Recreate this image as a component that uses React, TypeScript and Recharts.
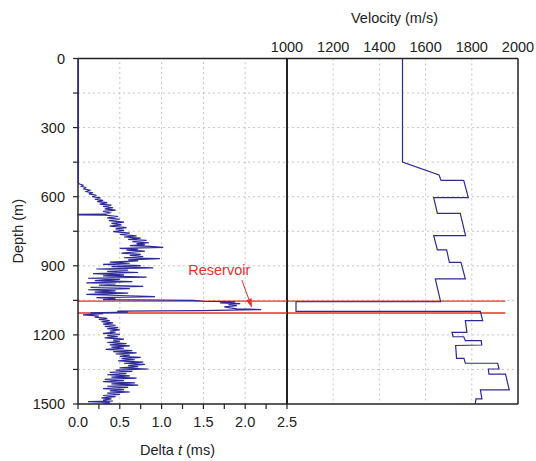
import {
  ScatterChart,
  Scatter,
  XAxis,
  YAxis,
  ReferenceLine,
  ReferenceDot,
  Label,
} from "recharts";

// depth axis (m), shared by both panels
const depthTicks = [0, 150, 300, 450, 600, 750, 900, 1050, 1200, 1350, 1500];
const depthGrid = [150, 300, 450, 600, 750, 900, 1050, 1200, 1350];

// Delta t axis (ms)
const deltaTicks = [0, 0.25, 0.5, 0.75, 1, 1.25, 1.5, 1.75, 2, 2.25, 2.5];
const deltaGrid = [0.5, 1, 1.5, 2];

// velocity axis (m/s)
const velocityTicks = [1000, 1200, 1400, 1600, 1800, 2000];
const velocityMinorTicks = [1000, 1100, 1200, 1300, 1400, 1500, 1600, 1700, 1800, 1900, 2000];
const velocityGrid = [1200, 1400, 1600, 1800];

// reservoir interval (m)
const reservoirTop = 1053;
const reservoirBase = 1105;

// [depth, delta t]
const deltaTLog: [number, number][] = [
  [0, 0.005], [542, 0.005], [545, 0.02], [550, 0.06], [555, 0.04], [560, 0.09],
  [566, 0.07], [572, 0.14], [578, 0.1], [583, 0.18], [588, 0.13], [594, 0.22],
  [600, 0.17], [605, 0.27], [611, 0.2], [616, 0.3], [621, 0.23], [626, 0.35],
  [632, 0.26], [637, 0.4], [642, 0.3], [648, 0.42], [653, 0.32], [658, 0.45],
  [664, 0.3], [670, 0.38], [676, 0.33], [677, 0], [679, 0], [680, 0.32],
  [686, 0.48], [692, 0.35], [698, 0.5], [704, 0.37], [710, 0.55], [716, 0.4],
  [722, 0.52], [728, 0.38], [734, 0.58], [740, 0.45], [746, 0.55], [752, 0.42],
  [758, 0.62], [764, 0.5], [770, 0.7], [775, 0.55], [780, 0.75], [785, 0.6],
  [790, 0.82], [795, 0.65], [800, 0.85], [804, 0.7], [808, 0.8], [812, 0.62],
  [816, 0.86], [820, 1.02], [824, 0.5], [828, 0.72], [832, 0.58], [836, 0.8],
  [840, 0.68], [845, 0.52], [850, 0.75], [855, 0.62], [860, 0.78], [865, 0.55],
  [869, 0.98], [874, 0.6], [879, 0.72], [884, 0.38], [889, 0.62], [894, 0.3],
  [899, 0.75], [904, 0.4], [909, 0.9], [914, 0.22], [919, 0.6], [924, 0.35],
  [929, 0.72], [934, 0.18], [939, 0.55], [944, 0.3], [949, 0.82], [954, 0.12],
  [959, 0.5], [964, 0.2], [969, 0.65], [974, 0.1], [979, 0.45], [984, 0.25],
  [989, 0.78], [994, 0.15], [999, 0.62], [1004, 0.12], [1009, 0.45], [1014, 0.2],
  [1019, 0.6], [1024, 0.1], [1029, 0.5], [1034, 0.92], [1038, 0.22], [1043, 0.45],
  [1047, 0.3], [1050, 1.38], [1054, 1.5], [1057, 1.88], [1061, 1.7], [1064, 1.94],
  [1068, 1.8], [1073, 1.9], [1078, 1.75], [1083, 1.82], [1087, 1.9], [1090, 2.19],
  [1095, 1.48], [1097, 0.47], [1101, 0.6], [1104, 0.15], [1108, 0.3], [1113, 0.06],
  [1118, 0.25], [1123, 0.2], [1128, 0.35], [1133, 0.25], [1138, 0.38], [1143, 0.28],
  [1148, 0.42], [1153, 0.3], [1158, 0.45], [1163, 0.32], [1168, 0.48], [1173, 0.35],
  [1178, 0.5], [1183, 0.38], [1188, 0.45], [1193, 0.3], [1198, 0.5], [1203, 0.35],
  [1208, 0.48], [1213, 0.32], [1218, 0.55], [1223, 0.42], [1228, 0.5], [1233, 0.35],
  [1238, 0.58], [1243, 0.38], [1248, 0.62], [1253, 0.4], [1258, 0.55], [1263, 0.33],
  [1268, 0.65], [1273, 0.42], [1278, 0.7], [1283, 0.45], [1288, 0.62], [1293, 0.5],
  [1298, 0.75], [1303, 0.52], [1308, 0.68], [1313, 0.48], [1318, 0.78], [1323, 0.55],
  [1328, 0.8], [1333, 0.6], [1338, 0.72], [1343, 0.5], [1348, 0.84], [1353, 0.45],
  [1358, 0.65], [1363, 0.38], [1368, 0.58], [1373, 0.35], [1378, 0.62], [1383, 0.4],
  [1388, 0.7], [1393, 0.32], [1398, 0.55], [1403, 0.3], [1408, 0.68], [1413, 0.4],
  [1418, 0.72], [1423, 0.35], [1428, 0.6], [1433, 0.3], [1438, 0.55], [1443, 0.38],
  [1448, 0.62], [1453, 0.35], [1458, 0.5], [1463, 0.3], [1468, 0.45], [1473, 0.28],
  [1478, 0.4], [1483, 0.3], [1487, 0.42], [1490, 0.12], [1493, 0.38], [1497, 0.3],
  [1500, 0.4],
];

// [depth, velocity]
const velocityLog: [number, number][] = [
  [0, 1500], [450, 1500], [506, 1658], [529, 1667], [529, 1765], [604, 1785],
  [604, 1635], [672, 1651], [672, 1750], [769, 1773], [769, 1635], [831, 1651],
  [831, 1691], [885, 1703], [885, 1753], [957, 1772], [957, 1642], [1056, 1665],
  [1056, 1039], [1098, 1039], [1098, 1837], [1138, 1847], [1138, 1772], [1189, 1779],
  [1189, 1714], [1208, 1719], [1208, 1765], [1225, 1772], [1225, 1841], [1244, 1843],
  [1246, 1730], [1302, 1734], [1302, 1766], [1323, 1772], [1323, 1912], [1348, 1918],
  [1348, 1872], [1370, 1874], [1370, 1946], [1439, 1962], [1439, 1837], [1478, 1844],
  [1478, 1818], [1500, 1815],
];

const INK = "#222";
const BLUE = "#2d2a98";
const RED = "#e8312b";
const GRID = "#c4c4c4";
const FONT = '"Liberation Sans", Arial, sans-serif';
const FS = 14.5;

const axisLine = { stroke: INK, strokeWidth: 1.5 };
const tickLine = { stroke: INK, strokeWidth: 1.2 };
const tickText = { fill: INK, fontSize: FS };

const fmtDelta = (v: number) =>
  Math.abs(v * 2 - Math.round(v * 2)) < 1e-6 ? v.toFixed(1) : "";
const fmtDepth = (v: number) => (v % 300 === 0 ? String(v) : "");

const Arrow = (p: any) => {
  const { x1, y1, x2, y2 } = p;
  const a = Math.atan2(y2 - y1, x2 - x1);
  const len = 9;
  const half = 3;
  const bx = x2 - len * Math.cos(a);
  const by = y2 - len * Math.sin(a);
  const pts = `${x2},${y2} ${bx + half * Math.sin(a)},${by - half * Math.cos(a)} ${bx - half * Math.sin(a)},${by + half * Math.cos(a)}`;
  return (
    <g>
      <line x1={x1} y1={y1} x2={bx} y2={by} stroke={RED} strokeWidth={1} />
      <polygon points={pts} fill={RED} />
    </g>
  );
};

const noDot = () => <g />;

export default function App() {
  const deltaData = deltaTLog.map(([depth, dt]) => ({ depth, dt }));
  const velData = velocityLog.map(([depth, v]) => ({ depth, v }));

  return (
    <div
      style={{
        position: "absolute",
        left: 0,
        top: 0,
        width: 536,
        height: 461,
        background: "#fff",
        fontFamily: FONT,
      }}
    >
      {/* right panel: velocity */}
      <div style={{ position: "absolute", left: 230, top: 0 }}>
        <ScatterChart
          width={306}
          height={461}
          margin={{ top: 8.5, right: 18, bottom: 57, left: 57 }}
        >
          <XAxis
            type="number"
            dataKey="v"
            orientation="top"
            domain={[1000, 2000]}
            ticks={velocityTicks}
            interval={0}
            height={50}
            tickLine={false}
            tickSize={0}
            tickMargin={7}
            axisLine={axisLine}
            tick={tickText}
          >
            <Label
              content={(p: any) => {
                const vb = p.viewBox;
                return (
                  <text
                    x={vb.x + vb.width / 2 - 8}
                    y={vb.y + 14}
                    textAnchor="middle"
                    fill={INK}
                    fontSize={FS}
                  >
                    Velocity (m/s)
                  </text>
                );
              }}
            />
          </XAxis>
          <XAxis
            xAxisId="tt"
            type="number"
            orientation="top"
            mirror
            domain={[1000, 2000]}
            ticks={velocityMinorTicks}
            interval={0}
            tick={false}
            tickSize={5}
            tickLine={tickLine}
            axisLine={false}
          />
          <XAxis
            xAxisId="bt"
            type="number"
            orientation="bottom"
            mirror
            domain={[1000, 2000]}
            ticks={velocityMinorTicks}
            interval={0}
            tick={false}
            tickSize={5}
            tickLine={tickLine}
            axisLine={axisLine}
          />
          <YAxis
            type="number"
            dataKey="depth"
            reversed
            mirror
            domain={[0, 1500]}
            ticks={depthTicks}
            interval={0}
            tick={false}
            tickSize={5}
            tickLine={tickLine}
            axisLine={{ stroke: INK, strokeWidth: 2 }}
          />
          <YAxis
            yAxisId="r"
            type="number"
            orientation="right"
            reversed
            mirror
            domain={[0, 1500]}
            ticks={depthTicks}
            interval={0}
            tick={false}
            tickSize={5}
            tickLine={tickLine}
            axisLine={axisLine}
          />
          {depthGrid.map((d) => (
            <ReferenceLine key={"h" + d} y={d} stroke={GRID} strokeDasharray="2 3" />
          ))}
          {velocityGrid.map((v) => (
            <ReferenceLine key={"v" + v} x={v} stroke={GRID} strokeDasharray="2 3" />
          ))}
          <Scatter
            data={velData}
            fill={BLUE}
            line={{ stroke: BLUE, strokeWidth: 1.2 }}
            shape={noDot}
            isAnimationActive={false}
          />
          <ReferenceLine
            segment={[{ x: 1000, y: reservoirTop }, { x: 1945, y: reservoirTop }]}
            stroke={RED}
            strokeWidth={1.3}
          />
          <ReferenceLine
            segment={[{ x: 1000, y: reservoirBase }, { x: 1945, y: reservoirBase }]}
            stroke={RED}
            strokeWidth={1.3}
          />
        </ScatterChart>
      </div>

      {/* left panel: delta t */}
      <div style={{ position: "absolute", left: 0, top: 0 }}>
        <ScatterChart
          width={300}
          height={461}
          margin={{ top: 58.5, right: 13, bottom: 17, left: 0 }}
        >
          <XAxis
            type="number"
            dataKey="dt"
            domain={[0, 2.5]}
            ticks={deltaTicks}
            interval={0}
            height={40}
            tickSize={5}
            tickMargin={8}
            tickFormatter={fmtDelta}
            axisLine={axisLine}
            tickLine={tickLine}
            tick={tickText}
          >
            <Label
              content={(p: any) => {
                const vb = p.viewBox;
                return (
                  <text
                    x={vb.x + vb.width / 2 - 5}
                    y={vb.y + 51}
                    textAnchor="middle"
                    fill={INK}
                    fontSize={FS}
                  >
                    Delta <tspan fontStyle="italic">t</tspan> (ms)
                  </text>
                );
              }}
            />
          </XAxis>
          <XAxis
            xAxisId="top"
            type="number"
            orientation="top"
            mirror
            domain={[0, 2.5]}
            ticks={deltaTicks}
            interval={0}
            tick={false}
            tickSize={5}
            tickLine={tickLine}
            axisLine={axisLine}
          />
          <YAxis
            type="number"
            dataKey="depth"
            reversed
            domain={[0, 1500]}
            ticks={depthTicks}
            interval={0}
            width={78}
            tickSize={5}
            tickMargin={8}
            tickFormatter={fmtDepth}
            axisLine={axisLine}
            tickLine={tickLine}
            tick={tickText}
          >
            <Label
              content={(p: any) => {
                const vb = p.viewBox;
                const cx = vb.x + 18;
                const cy = vb.y + vb.height / 2;
                return (
                  <text
                    x={cx}
                    y={cy}
                    transform={`rotate(-90 ${cx} ${cy})`}
                    textAnchor="middle"
                    dominantBaseline="central"
                    fill={INK}
                    fontSize={FS}
                  >
                    Depth (m)
                  </text>
                );
              }}
            />
          </YAxis>
          {depthGrid.map((d) => (
            <ReferenceLine key={"h" + d} y={d} stroke={GRID} strokeDasharray="2 3" />
          ))}
          {deltaGrid.map((v) => (
            <ReferenceLine key={"v" + v} x={v} stroke={GRID} strokeDasharray="2 3" />
          ))}
          <Scatter
            data={deltaData}
            fill={BLUE}
            line={{ stroke: BLUE, strokeWidth: 1.2 }}
            shape={noDot}
            isAnimationActive={false}
          />
          <ReferenceLine y={reservoirTop} stroke={RED} strokeWidth={1.3} />
          <ReferenceLine y={reservoirBase} stroke={RED} strokeWidth={1.3} />
          <ReferenceLine
            segment={[{ x: 1.96, y: 962 }, { x: 2.08, y: 1082 }]}
            shape={Arrow}
          />
          <ReferenceDot
            x={1.69}
            y={918}
            r={1}
            fill="none"
            stroke="none"
            label={{ value: "Reservoir", position: "center", fill: RED, fontSize: FS }}
          />
        </ScatterChart>
      </div>
    </div>
  );
}
